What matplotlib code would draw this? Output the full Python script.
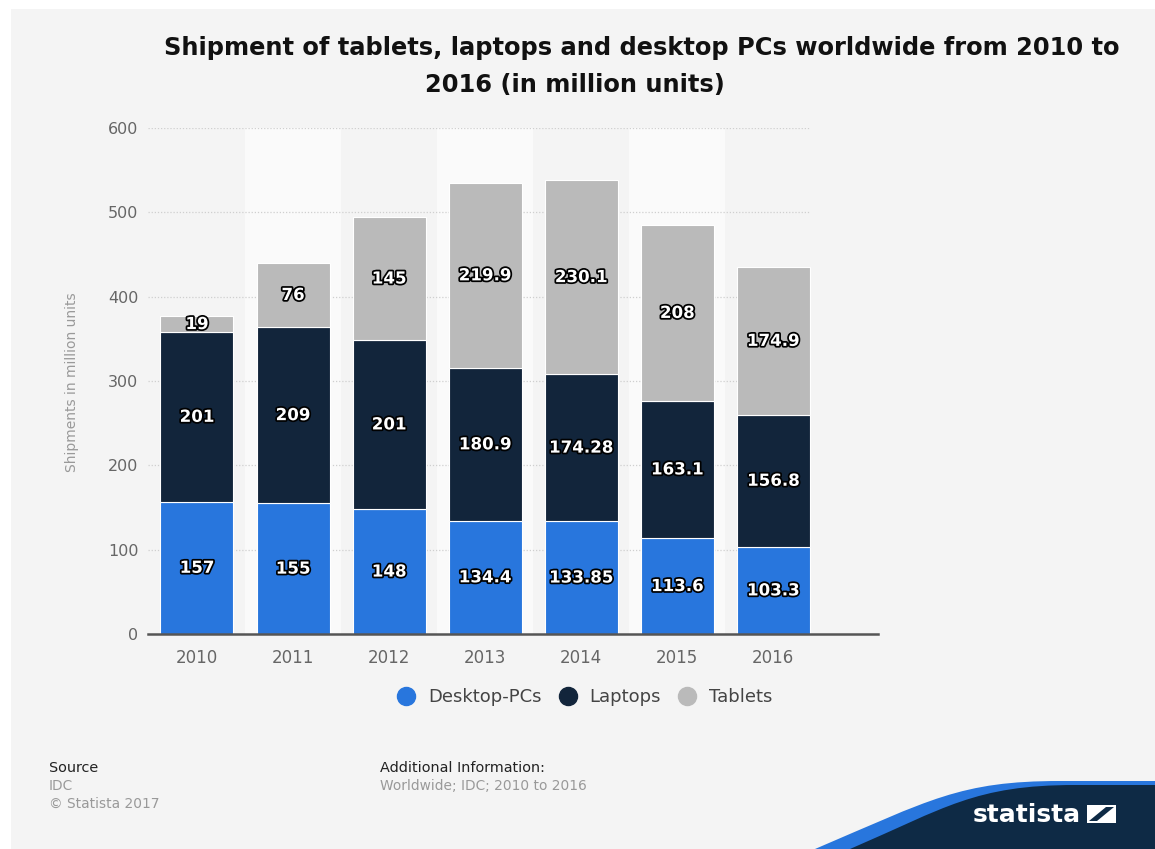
import matplotlib.pyplot as plt
import matplotlib.patheffects as pe
from matplotlib.patches import Rectangle, PathPatch, Polygon
from matplotlib.path import Path
from matplotlib.lines import Line2D
import numpy as np

plt.rcParams['font.family'] = ['DejaVu Sans']

# Data (million units)
years = ['2010', '2011', '2012', '2013', '2014', '2015', '2016']
desktop = [157, 155, 148, 134.4, 133.85, 113.6, 103.3]
laptops = [201, 209, 201, 180.9, 174.28, 163.1, 156.8]
tablets = [19, 76, 145, 219.9, 230.1, 208, 174.9]
series_names = ['Desktop-PCs', 'Laptops', 'Tablets']
yticks = [0, 100, 200, 300, 400, 500, 600]

colors = ['#2876dd', '#12253b', '#bababa']
W, H = 1155, 849

fig = plt.figure(figsize=(W / 100, H / 100), dpi=100, facecolor='white')

# background + statista logo layer (pixel coords)
bg = fig.add_axes([0, 0, 1, 1], zorder=-5)
bg.set_xlim(0, W)
bg.set_ylim(H, 0)
bg.axis('off')
bg.add_patch(Rectangle((11, 9), W - 11, H - 9, color='#f4f4f4', lw=0))

blue = Path([(815, 849), (930, 800), (960, 781), (1060, 781), (W, 781), (W, H), (815, H)],
            [Path.MOVETO, Path.CURVE4, Path.CURVE4, Path.CURVE4, Path.LINETO, Path.LINETO, Path.CLOSEPOLY])
bg.add_patch(PathPatch(blue, facecolor='#2876dd', lw=0))
dark = Path([(850, 849), (945, 808), (975, 785), (1075, 785), (W, 785), (W, H), (850, H)],
            [Path.MOVETO, Path.CURVE4, Path.CURVE4, Path.CURVE4, Path.LINETO, Path.LINETO, Path.CLOSEPOLY])
bg.add_patch(PathPatch(dark, facecolor='#0e2a45', lw=0))
bg.text(1027, 815, 'statista', color='white', fontsize=18, fontweight='bold',
        ha='center', va='center')
bg.add_patch(Rectangle((1087, 805), 29, 18, color='white', lw=0))
bg.add_patch(Polygon([(1089, 821), (1097, 821), (1114, 807), (1106, 807)], color='#0e2a45', lw=0))

# main chart
ax = fig.add_axes([148 / W, 1 - 634 / H, (878 - 148) / W, (634 - 128) / H])
ax.set_facecolor('none')
x = np.arange(len(years))
bw = 0.76
ax.set_xlim(-0.51, 7.09)
ax.set_ylim(0, 600)

# alternating column bands
for i in x[1::2]:
    ax.axvspan(i - 0.5, i + 0.5, color='#fafafa', lw=0, zorder=0)

ax.hlines(yticks[1:], -0.51, x[-1] + bw / 2, colors='#cfcfcf', linestyles=(0, (1, 1.5)),
          lw=0.9, zorder=1)

bottom = np.zeros(len(years))
for vals, c in zip([desktop, laptops, tablets], colors):
    vals = np.array(vals)
    ax.bar(x, vals, bw, bottom=bottom, color=c, edgecolor='white', lw=0.8, zorder=2)
    for xi, b, v in zip(x, bottom, vals):
        ax.text(xi, b + v / 2, f'{v:g}', ha='center', va='center', color='white',
                fontsize=12, fontweight='bold', zorder=4,
                path_effects=[pe.withStroke(linewidth=2.5, foreground='black')])
    bottom += vals

for s in ['top', 'right', 'left']:
    ax.spines[s].set_visible(False)
ax.spines['bottom'].set_color('#555555')
ax.spines['bottom'].set_linewidth(1.8)
ax.spines['bottom'].set_zorder(3)

ax.set_yticks(yticks)
ax.set_xticks(x)
ax.set_xticklabels(years)
ax.tick_params(axis='y', length=0, pad=7, labelsize=11.5, labelcolor='#666666')
ax.tick_params(axis='x', length=0, pad=11, labelsize=12, labelcolor='#666666')

fig.text(72 / W, 1 - 382 / H, 'Shipments in million units', rotation=90, ha='center',
         va='center', fontsize=10, color='#999999')

# title
fig.text(642 / W, 1 - 48 / H, 'Shipment of tablets, laptops and desktop PCs worldwide from 2010 to',
         ha='center', va='center', fontsize=17.4, fontweight='bold', color='#111111')
fig.text(575 / W, 1 - 85 / H, '2016 (in million units)',
         ha='center', va='center', fontsize=17.4, fontweight='bold', color='#111111')

# legend
handles = [Line2D([], [], marker='o', ls='', markersize=13, color=c) for c in colors]
fig.legend(handles, series_names, loc='center', bbox_to_anchor=(580 / W, 1 - 697 / H),
           ncol=3, frameon=False, fontsize=13, handletextpad=0.2, columnspacing=0.45,
           labelcolor='#444444')

# footer
fig.text(49 / W, 1 - 768 / H, 'Source', fontsize=10.4, color='#222222', va='center')
fig.text(49 / W, 1 - 786 / H, 'IDC', fontsize=9.9, color='#999999', va='center')
fig.text(49 / W, 1 - 804 / H, '\u00a9 Statista 2017', fontsize=9.9, color='#999999', va='center')
fig.text(380 / W, 1 - 768 / H, 'Additional Information:', fontsize=10.4, color='#222222', va='center')
fig.text(380 / W, 1 - 786 / H, 'Worldwide; IDC; 2010 to 2016', fontsize=9.9, color='#999999', va='center')

fig.savefig('out.png', dpi=100, facecolor=fig.get_facecolor())
